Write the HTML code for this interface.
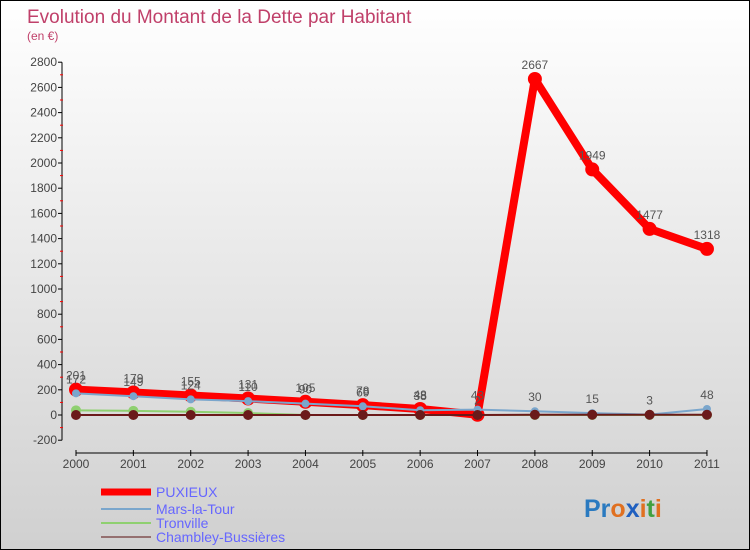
<!DOCTYPE html>
<html><head><meta charset="utf-8"><style>
body{margin:0}
#c{width:748px;height:548px;border:1px solid #000;background:linear-gradient(#fff,#d0d0d0);position:relative;font-family:"Liberation Sans",sans-serif;overflow:hidden}
</style></head><body>
<div id="c">
<svg width="748" height="548" id="s">
<text x="26" y="22" font-size="19" fill="#c0406a">Evolution du Montant de la Dette par Habitant</text>
<text x="26" y="39" font-size="12" fill="#c0406a">(en €)</text>
<g id="ax"></g><g id="ser"></g>
<g font-size="14" fill="#6666ff">
<line x1="100" y1="491" x2="150" y2="491" stroke="#f00" stroke-width="7"/><text x="155" y="496">PUXIEUX</text>
<line x1="100" y1="508" x2="150" y2="508" stroke="#7aa6cc" stroke-width="2"/><text x="155" y="513">Mars-la-Tour</text>
<line x1="100" y1="522" x2="150" y2="522" stroke="#8fd070" stroke-width="2"/><text x="155" y="527">Tronville</text>
<line x1="100" y1="536" x2="150" y2="536" stroke="#957070" stroke-width="2"/><text x="155" y="541">Chambley-Bussières</text>
</g>
<text x="583" y="516" font-size="25" font-weight="bold"><tspan fill="#2a7ac0">Pr</tspan><tspan fill="#e07020">o</tspan><tspan fill="#2060c0">x</tspan><tspan fill="#e07020">i</tspan><tspan fill="#40a040">t</tspan><tspan fill="#e07020">i</tspan></text>
</svg></div>
<script>
const years=[2000,2001,2002,2003,2004,2005,2006,2007,2008,2009,2010,2011];
const puxieux=[201,179,155,131,105,78,48,2,2667,1949,1477,1318];
const mars=[172,149,124,110,90,69,38,43,30,15,3,48];
const tronville=[37,33,26,16,0,0,0,0,0,0,0,0];
const chambley=[0,0,0,0,0,0,0,0,2,2,2,2];
const yTicks=[-200,0,200,400,600,800,1000,1200,1400,1600,1800,2000,2200,2400,2600,2800];
const NS="http://www.w3.org/2000/svg";
const X=i=>75+i*57.36, Y=v=>414-v*0.126;
function mk(t,a,p){const e=document.createElementNS(NS,t);for(const k in a)e.setAttribute(k,a[k]);p.appendChild(e);return e;}
const ax=document.getElementById('ax'),ser=document.getElementById('ser');
mk('line',{x1:61,y1:Y(2800),x2:61,y2:Y(-200),stroke:'#000'},ax);
mk('line',{x1:75,y1:452,x2:706,y2:452,stroke:'#000'},ax);
yTicks.forEach((v,i)=>{
 mk('line',{x1:57,y1:Y(v),x2:61,y2:Y(v),stroke:'#000'},ax);
 if(i<yTicks.length-1) mk('line',{x1:59,y1:Y(v+100),x2:62,y2:Y(v+100),stroke:'#f00'},ax);
 const t=mk('text',{x:56,y:Y(v)+4,'font-size':12,'text-anchor':'end',fill:'#444'},ax);t.textContent=v;
 
 
});
years.forEach((y,i)=>{
 mk('line',{x1:X(i),y1:449,x2:X(i),y2:455,stroke:'#000'},ax);
 const t=mk('text',{x:X(i),y:467,'font-size':12,'text-anchor':'middle',fill:'#444'},ax);t.textContent=y;
 
 
});
function series(d,col,w,r,name,lab){
 const g=mk('g',{},ser);
 
 
 mk('polyline',{points:d.map((v,i)=>X(i)+','+Y(v)).join(' '),fill:'none',stroke:col,'stroke-width':w,'stroke-linejoin':'round'},g);
 d.forEach((v,i)=>{
  const c=mk('circle',{cx:X(i),cy:Y(v),r:r,fill:col},g);
  
  
  if(lab){const t=mk('text',{x:X(i),y:Y(v)-10,'font-size':12,'text-anchor':'middle',fill:'#555'},g);t.textContent=v;}
 });
}
series(tronville,'#8fd070',2,5,'tronville-series',false);
series(puxieux,'#f00',8,7,'puxieux-series',true);
series(mars,'#7aa6cc',2,4,'mars-la-tour-series',true);
series(chambley,'#6b1a1a',2,5,'chambley-series',false);
</script>
</body></html>
